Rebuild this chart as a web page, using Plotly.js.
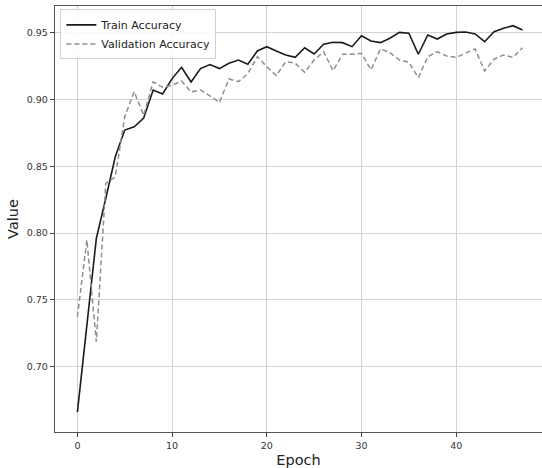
<!DOCTYPE html>
<html>
<head>
<meta charset="utf-8">
<script src="https://cdn.plot.ly/plotly-3.0.1.min.js"></script>
<style>
  html, body { margin: 0; padding: 0; background: #fff; }
  #chart { width: 542px; height: 468px; }
</style>
</head>
<body>
<div id="chart"></div>
<script>
// Training history: accuracy per epoch
const epochs = [0, 1, 2, 3, 4, 5, 6, 7, 8, 9,
  10, 11, 12, 13, 14, 15, 16, 17, 18, 19,
  20, 21, 22, 23, 24, 25, 26, 27, 28, 29,
  30, 31, 32, 33, 34, 35, 36, 37, 38, 39,
  40, 41, 42, 43, 44, 45, 46, 47];

const trainAccuracy = [0.666, 0.732, 0.796, 0.826, 0.857, 0.877, 0.8795, 0.886, 0.907, 0.904,
  0.9155, 0.924, 0.913, 0.923, 0.926, 0.923, 0.927, 0.9294, 0.9262, 0.9362,
  0.9394, 0.9362, 0.9332, 0.9314, 0.9386, 0.9339, 0.9412, 0.9427, 0.9424, 0.9394,
  0.9476, 0.9436, 0.9424, 0.9457, 0.9501, 0.9494, 0.9337, 0.9481, 0.9451, 0.9489,
  0.9501, 0.9504, 0.9489, 0.9431, 0.9506, 0.9531, 0.9551, 0.9519];

const valAccuracy = [0.7374, 0.7948, 0.7187, 0.8372, 0.842, 0.887, 0.9057, 0.888, 0.913, 0.909,
  0.9105, 0.9137, 0.9055, 0.907, 0.9025, 0.8978, 0.9152, 0.9132, 0.9192, 0.9319,
  0.9244, 0.9177, 0.9282, 0.927, 0.9202, 0.9294, 0.9356, 0.9214, 0.9337, 0.9337,
  0.9344, 0.922, 0.9377, 0.9349, 0.9294, 0.9277, 0.9162, 0.9319, 0.9356, 0.9324,
  0.9314, 0.9344, 0.9377, 0.9212, 0.93, 0.9332, 0.9314, 0.9386];

const xTicks = [0, 10, 20, 30, 40];
const yTicks = [0.70, 0.75, 0.80, 0.85, 0.90, 0.95];

const FONT = 'DejaVu Sans, Liberation Sans, sans-serif';

const traces = [
  {
    x: epochs, y: trainAccuracy, name: 'Train Accuracy',
    type: 'scatter', mode: 'lines',
    line: { color: '#1a1a1a', width: 1.6 }
  },
  {
    x: epochs, y: valAccuracy, name: 'Validation Accuracy',
    type: 'scatter', mode: 'lines',
    line: { color: '#8e8e8e', width: 1.5, dash: '5px,3px' }
  }
];

const layout = {
  width: 542, height: 468,
  margin: { l: 55, r: 0, t: 6, b: 36 },
  paper_bgcolor: '#fff', plot_bgcolor: '#fff',
  font: { family: FONT, color: '#222', size: 10 },
  showlegend: true,
  legend: {
    x: 0.011, y: 0.992, xanchor: 'left', yanchor: 'top',
    bgcolor: 'rgba(255,255,255,0.85)', bordercolor: '#d0d0d0', borderwidth: 1,
    font: { family: FONT, size: 11, color: '#222' },
    tracegroupgap: 0
  },
  xaxis: {
    range: [-2.365, 49.06],
    tickvals: xTicks, ticktext: xTicks.map(String),
    ticks: 'outside', ticklen: 4, tickwidth: 1, tickcolor: '#444',
    tickfont: { family: FONT, size: 9.5, color: '#333' },
    showgrid: true, gridcolor: '#d3d3d3', gridwidth: 1,
    zeroline: false,
    showline: true, linecolor: '#555', linewidth: 1.2, mirror: true,
    title: { text: 'Epoch', font: { family: FONT, size: 14.5, color: '#222' }, standoff: 6 }
  },
  yaxis: {
    range: [0.6512, 0.9698],
    tickvals: yTicks, ticktext: yTicks.map(v => v.toFixed(2)),
    ticks: 'outside', ticklen: 4, tickwidth: 1, tickcolor: '#444',
    tickfont: { family: FONT, size: 9.5, color: '#333' },
    showgrid: true, gridcolor: '#d3d3d3', gridwidth: 1,
    zeroline: false,
    showline: true, linecolor: '#555', linewidth: 1.2, mirror: false,
    title: { text: 'Value', font: { family: FONT, size: 14.5, color: '#222' }, standoff: 4 }
  }
};

Plotly.newPlot('chart', traces, layout, { displayModeBar: false, staticPlot: true });
</script>
</body>
</html>
